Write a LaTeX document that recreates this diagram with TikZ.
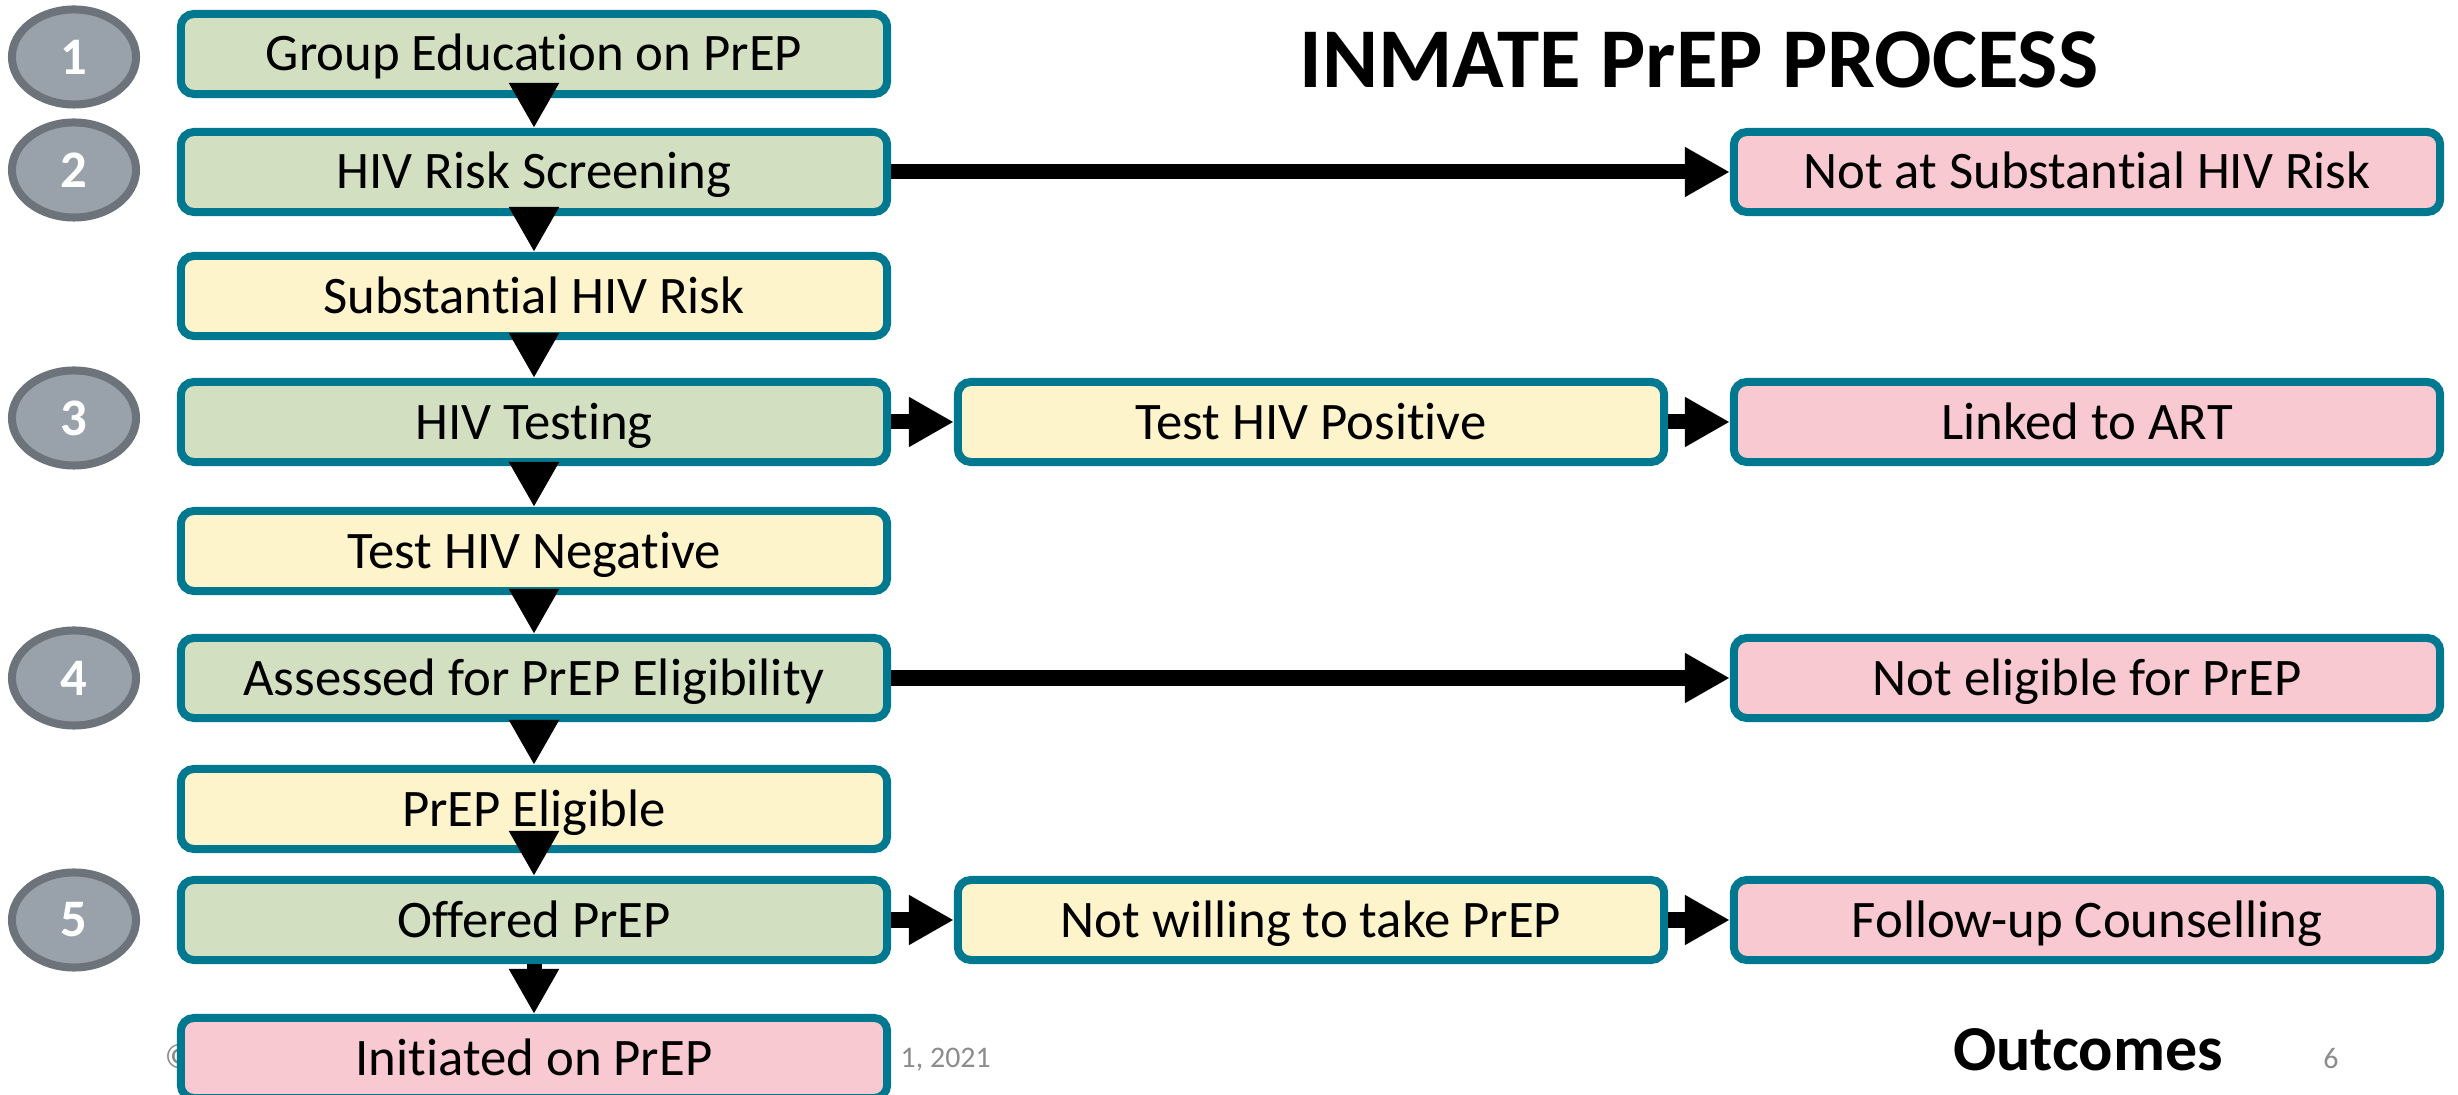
\documentclass[tikz,border=0pt]{standalone}
\usepackage{fontspec}
\setmainfont{Carlito}[Ligatures=NoCommon]
\usetikzlibrary{arrows.meta, positioning, shapes.geometric}
\definecolor{prepteal}{HTML}{00788F}
\definecolor{prepgreen}{HTML}{D3DFC1}
\definecolor{prepyellow}{HTML}{FEF4CC}
\definecolor{preppink}{HTML}{F9C9D2}
\definecolor{prepgrey}{HTML}{99A1AA}
\definecolor{prepgreydark}{HTML}{6C737A}
\definecolor{prepfoot}{HTML}{8C8C8C}

\begin{document}
\begin{tikzpicture}[x=0.01cm, y=-0.01cm,
  every node/.style={inner sep=0pt},
  box/.style={draw=prepteal, line width=0.08cm, rounded corners=0.13cm,
    minimum width=7.06cm, minimum height=0.80cm, text height=0.34cm, text depth=0pt,
    font=\fontsize{15}{18}\selectfont},
  greenbox/.style={box, fill=prepgreen},
  yellowbox/.style={box, fill=prepyellow},
  pinkbox/.style={box, fill=preppink},
  numdisc/.style={ellipse, draw=prepgreydark, fill=prepgrey, line width=0.08cm,
    minimum width=1.24cm, minimum height=0.95cm, text=white,
    font=\fontsize{15}{17}\selectfont\bfseries},
  flow/.style={line width=0.15cm, -{Triangle[length=0.45cm, width=0.47cm]}}]
  \useasboundingbox (0,0) rectangle (2458,1095);
  \clip (0,0) rectangle (2458,1095);
  \def\colL{534}
  \def\colM{1311}
  \def\colR{2087}
  % footer, partly hidden by the last box
  \node[font=\fontsize{10}{12}\selectfont, prepfoot, anchor=base west] (copy) at (164,1068) {©};
  \node[font=\fontsize{8.5}{10}\selectfont, prepfoot, anchor=base west] (date) at (900,1067) {1, 2021};
  \node[font=\fontsize{8.5}{10}\selectfont, prepfoot, anchor=base] (page) at (2331,1068) {6};
  % main column
  \node[greenbox] (edu) at (\colL,54) {Group Education on PrEP};
  \node[greenbox] (screen) at (\colL,172) {HIV Risk Screening};
  \node[yellowbox] (risk) at (\colL,296) {Substantial HIV Risk};
  \node[greenbox] (test) at (\colL,422) {HIV Testing};
  \node[yellowbox] (neg) at (\colL,551) {Test HIV Negative};
  \node[greenbox] (assess) at (\colL,678) {Assessed for PrEP Eligibility};
  \node[yellowbox] (elig) at (\colL,809) {PrEP Eligible};
  \node[greenbox] (offer) at (\colL,920) {Offered PrEP};
  \node[pinkbox] (init) at (\colL,1058) {Initiated on PrEP};
  % side branches
  \node[yellowbox] (pos) at (\colM,422) {Test HIV Positive};
  \node[yellowbox] (unwill) at (\colM,920) {Not willing to take PrEP};
  \node[pinkbox] (norisk) at (\colR,172) {Not at Substantial HIV Risk};
  \node[pinkbox] (art) at (\colR,422) {Linked to ART};
  \node[pinkbox] (inelig) at (\colR,678) {Not eligible for PrEP};
  \node[pinkbox] (follow) at (\colR,920) {Follow-up Counselling};
  % step numbers
  \foreach \n/\yy in {1/57, 2/170, 3/418, 4/678, 5/920}
    \node[numdisc] (step\n) at (74,\yy) {\n};
  \node[font=\fontsize{24.2}{28}\selectfont\bfseries, anchor=base] (title) at (1699,88) {INMATE PrEP PROCESS};
  \node[font=\fontsize{18.2}{22}\selectfont\bfseries, anchor=base] (outcomes) at (2088,1070) {Outcomes};
  % arrows
  \foreach \a/\b in {edu/screen, screen/risk, risk/test, test/neg, neg/assess,
      assess/elig, elig/offer, offer/init}
    \draw[flow] (\a.south) -- (\b.north);
  \foreach \a/\b in {screen/norisk, test/pos, pos/art, assess/inelig,
      offer/unwill, unwill/follow}
    \draw[flow] (\a.east) -- (\b.west);
\end{tikzpicture}
\end{document}
